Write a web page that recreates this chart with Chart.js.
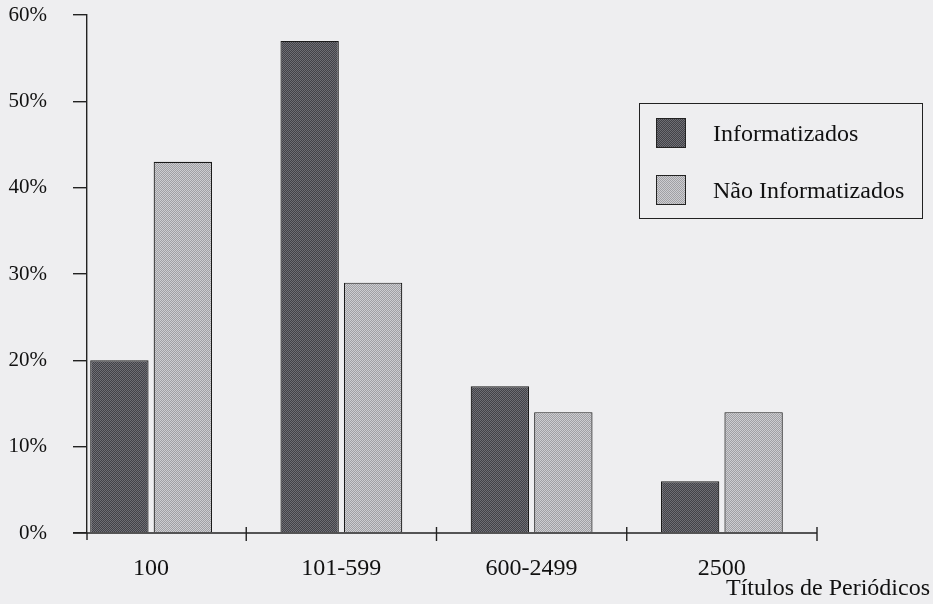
<!DOCTYPE html>
<html>
<head>
<meta charset="utf-8">
<script src="https://cdn.jsdelivr.net/npm/chart.js@4/dist/chart.umd.min.js"></script>
<style>
  html, body { margin: 0; padding: 0; background: #eeeef0; }
  #wrap { position: relative; width: 933px; height: 604px; }
  #legendBox {
    position: absolute; left: 639px; top: 103px; width: 282px; height: 114px;
    border: 1.5px solid #222; font-family: 'Liberation Serif', serif; font-size: 24px; color: #111;
  }
  .lg-row { position: absolute; left: 16px; display: flex; align-items: center; }
  .lg-sw { width: 28px; height: 28px; border: 1px solid #222; margin-right: 27px; }
</style>
</head>
<body>
<div id="wrap">
  <canvas id="chart" width="933" height="604"></canvas>
  <div id="legendBox"></div>
</div>
<script>
const categories = ['100', '101-599', '600-2499', '2500'];
const informatizados = [20, 57, 17, 6];
const naoInformatizados = [43, 29, 14, 14];
const seriesNames = ['Informatizados', 'N\u00e3o Informatizados'];
const axisTitle = 'T\u00edtulos de Peri\u00f3dicos';

// dithered fill like the scanned print
function dither(c1, c2) {
    const pc = document.createElement('canvas');
    pc.width = 2; pc.height = 2;
    const g = pc.getContext('2d');
    g.fillStyle = c1; g.fillRect(0, 0, 2, 2);
    g.fillStyle = c2; g.fillRect(0, 0, 1, 1); g.fillRect(1, 1, 1, 1);
    return g.createPattern(pc, 'repeat');
}

const ctx = document.getElementById('chart').getContext('2d');
const darkFill = dither('#424248', '#6e6e74');
const lightFill = dither('#a0a0a4', '#cdcdd1');
const swatchCss = ['repeating-conic-gradient(#424248 0 25%, #6e6e74 0 50%) 0 0/2px 2px',
                   'repeating-conic-gradient(#a0a0a4 0 25%, #cdcdd1 0 50%) 0 0/2px 2px'];

const axisMarks = {
    id: 'axisMarks',
    afterDraw(chart) {
        const x = chart.scales.x, y = chart.scales.y, c = chart.ctx;
        const y0 = y.getPixelForValue(0);
        const ax = chart.chartArea.left;
        c.save();
        c.strokeStyle = '#222'; c.lineWidth = 1.4;
        c.beginPath();
        c.moveTo(ax - 14, y0); c.lineTo(x.getPixelForValue(categories.length - 0.5), y0);
        c.moveTo(ax, y0); c.lineTo(ax, y0 + 7);
        for (let i = 0; i < categories.length; i++) {
            const px = x.getPixelForValue(i + 0.5);
            c.moveTo(px, y0 - 6); c.lineTo(px, y0 + 8);
        }
        c.stroke();
        c.fillStyle = '#111';
        c.font = '24px "Liberation Serif", serif';
        c.textAlign = 'right'; c.textBaseline = 'middle';
        c.fillText(axisTitle, chart.width - 3, 589);
        c.restore();
    }
};

new Chart(ctx, {
    type: 'bar',
    data: {
        datasets: [
            { label: seriesNames[0], data: informatizados.map((v, i) => ({ x: i, y: v })), backgroundColor: darkFill, borderColor: '#1a1a1a', borderWidth: 1.2 },
            { label: seriesNames[1], data: naoInformatizados.map((v, i) => ({ x: i, y: v })), backgroundColor: lightFill, borderColor: '#1a1a1a', borderWidth: 1.2 }
        ]
    },
    options: {
        responsive: false, animation: false,
        categoryPercentage: 0.667, barPercentage: 0.92,
        layout: { padding: { left: 0, right: 116, top: 15, bottom: 0 } },
        plugins: { legend: { display: false }, tooltip: { enabled: false } },
        scales: {
            x: {
                type: 'linear', offset: false,
                min: -0.337, max: 3.5,
                grid: { display: false },
                border: { display: false },
                afterBuildTicks(s) { s.ticks = categories.map((c, i) => ({ value: i })); },
                ticks: { color: '#111', padding: 13, font: { family: 'Liberation Serif', size: 24 }, callback: v => categories[v] },
                afterFit(s) { s.height = 71; s.paddingLeft = 0; s.paddingRight = 0; }
            },
            y: {
                min: 0, max: 60,
                grid: { drawOnChartArea: false, drawTicks: true, tickLength: 14, color: '#222', lineWidth: 1.4 },
                border: { display: true, color: '#222', width: 1.4 },
                ticks: { stepSize: 10, color: '#111', padding: 26, font: { family: 'Liberation Serif', size: 21 }, callback: v => v + '%' },
                afterFit(s) { s.width = 87; s.paddingTop = 0; s.paddingBottom = 0; }
            }
        }
    },
    plugins: [axisMarks]
});

const lg = document.getElementById('legendBox');
seriesNames.forEach((n, i) => {
    lg.innerHTML += `<div class="lg-row" style="top:${14 + i * 57}px"><div class="lg-sw" style="background:${swatchCss[i]}"></div><span>${n}</span></div>`;
});
</script>
</body>
</html>
